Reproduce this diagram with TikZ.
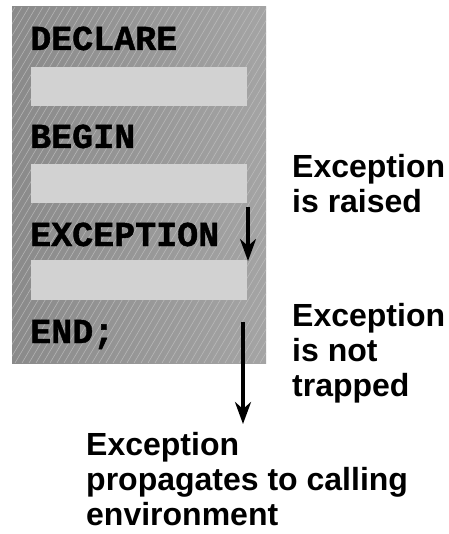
\documentclass[tikz,border=0pt]{standalone}
\usepackage{fontspec}
\setmainfont{Liberation Sans}
\newfontfamily\codefont[FakeBold=1.2]{Liberation Mono}
\usetikzlibrary{arrows.meta}
\definecolor{panelL}{HTML}{8A8A8A}
\definecolor{panelR}{HTML}{A4A4A4}
\definecolor{slot}{HTML}{D2D2D2}
\definecolor{hatch}{HTML}{C4C4C4}
\newcommand\lblfont{\bfseries\fontsize{32}{35}\selectfont\lineskiplimit=-40pt\relax}
\begin{document}
\begin{tikzpicture}[x=1pt,y=-1pt,
  codetext/.style={anchor=base west,inner sep=0pt,font=\codefont\bfseries\fontsize{35}{35}\selectfont},
  lbl/.style={anchor=base west,inner sep=0pt,align=left,font=\lblfont},
  slotbox/.style={fill=slot,draw=none},
  flow/.style={line width=3.4pt,-{Stealth[length=22pt,width=16pt,inset=7pt]}}]
\useasboundingbox (0,0) rectangle (448,534);
\fill[white] (0,0) rectangle (448,534);
% panel
\shade[left color=panelL,right color=panelR] (12,7) rectangle (266,363);
\begin{scope}
\clip (12,7) rectangle (266,363);
\foreach \i in {-300,-293,...,270}{
  \draw[hatch,line width=0.6pt,opacity=0.7] (\i,363) -- (\i+210,7);
}
\end{scope}
% slots
\fill[slotbox] (31,67) rectangle (247,106);
\fill[slotbox] (31,164) rectangle (247,203);
\fill[slotbox] (31,260) rectangle (247,300);
% code words
\node[codetext] (decl) at (30,50) {DECLARE};
\node[codetext] (begin) at (30,148) {BEGIN};
\node[codetext] (exc) at (30,246) {EXCEPTION};
\node[codetext] (end) at (30,343) {END;};
% labels (base anchor = last line baseline)
\node[lbl] (raised) at (292,213) {Exception\\is raised};
\node[lbl] (nottrap) at (292,396) {Exception\\is not\\trapped};
\node[lbl] (prop) at (86,525) {Exception\\propagates to calling\\environment};
% arrows
\coordinate (a1s) at (248,207);
\coordinate (a1e) at (248,261);
\coordinate (a2s) at (243,322);
\coordinate (a2e) at (243,424);
\draw[flow] (a1s) -- (a1e);
\draw[flow] (a2s) -- (a2e);
\end{tikzpicture}
\end{document}
